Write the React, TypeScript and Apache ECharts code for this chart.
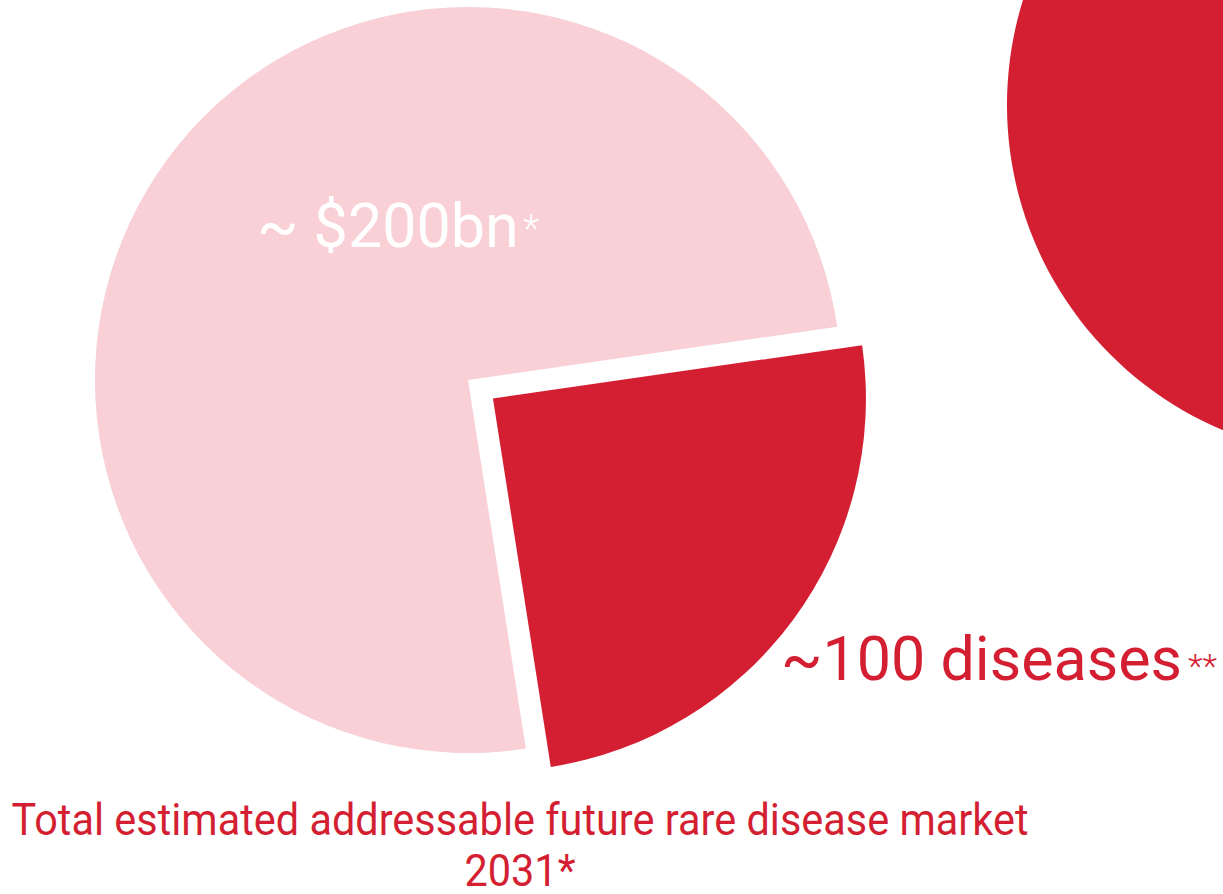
import React, { useEffect, useRef } from "react";
import * as echarts from "echarts";

const RED = "#D41F33";
const PINK = "#F8D0D6";

const sliceNames = ["Rare diseases addressed", "Total rare disease market"];
const sliceValues = [24.8, 75.2];
const sliceColors = [RED, PINK];
const marketLabel = ["~ $200bn", "*"];
const diseaseLabel = ["~100 diseases", "**"];
const titleLines = ["Total estimated addressable future rare disease market", "2031*"];
const sideCircleValues = [1];

export default function App() {
  const ref = useRef<HTMLDivElement>(null);
  useEffect(() => {
    if (!ref.current) return;
    const chart = echarts.init(ref.current, null, { renderer: "svg" });
    const font = "Roboto";
    chart.setOption({
      animation: false,
      backgroundColor: "#ffffff",
      series: [
        {
          type: "pie",
          center: [468, 380],
          radius: [0, 373],
          startAngle: 8.2,
          clockwise: true,
          selectedMode: "single",
          selectedOffset: 31,
          label: { show: false },
          labelLine: { show: false },
          emphasis: { disabled: true },
          silent: true,
          data: sliceNames.map((n, i) => ({
            name: n,
            value: sliceValues[i],
            selected: i === 0,
            itemStyle: { color: sliceColors[i] },
          })),
        },
        {
          type: "pie",
          center: [1360, 105],
          radius: [0, 353],
          label: { show: false },
          labelLine: { show: false },
          emphasis: { disabled: true },
          silent: true,
          data: sideCircleValues.map((v) => ({ name: "side", value: v, itemStyle: { color: RED } })),
        },
      ],
      graphic: [
        {
          type: "text",
          z: 100,
          x: 257,
          y: 226,
          style: {
            text: marketLabel[0],
            fontFamily: font,
            fontSize: 61,
            lineHeight: 50,
            fill: "#ffffff",
            align: "left",
            verticalAlign: "middle",
          },
        },
        {
          type: "text",
          z: 100,
          x: 523,
          y: 229,
          style: {
            text: marketLabel[1],
            fontFamily: font,
            fontWeight: 300,
            fontSize: 38,
            lineHeight: 20,
            fill: "#ffffff",
            align: "left",
            verticalAlign: "middle",
          },
        },
        {
          type: "text",
          z: 100,
          x: 781,
          y: 659,
          style: {
            text: diseaseLabel[0],
            fontFamily: font,
            fontSize: 61,
            lineHeight: 50,
            fill: RED,
            align: "left",
            verticalAlign: "middle",
          },
        },
        {
          type: "text",
          z: 100,
          x: 1188,
          y: 666,
          style: {
            text: diseaseLabel[1],
            fontFamily: font,
            fontWeight: 300,
            fontSize: 34,
            lineHeight: 20,
            fill: RED,
            align: "left",
            verticalAlign: "middle",
          },
        },
        {
          type: "text",
          z: 100,
          x: 520,
          y: 820,
          scaleX: 0.942,
          style: {
            text: titleLines[0],
            fontFamily: font,
            fontSize: 44,
            lineHeight: 40,
            fill: RED,
            align: "center",
            verticalAlign: "middle",
          },
        },
        {
          type: "text",
          z: 100,
          x: 520,
          y: 871,
          scaleX: 0.942,
          style: {
            text: titleLines[1],
            fontFamily: font,
            fontSize: 44,
            lineHeight: 36,
            fill: RED,
            align: "center",
            verticalAlign: "middle",
          },
        },
      ],
    });
    return () => chart.dispose();
  }, []);
  return (
    <div
      ref={ref}
      style={{ position: "fixed", left: 0, top: 0, width: 1223, height: 894 }}
    />
  );
}
